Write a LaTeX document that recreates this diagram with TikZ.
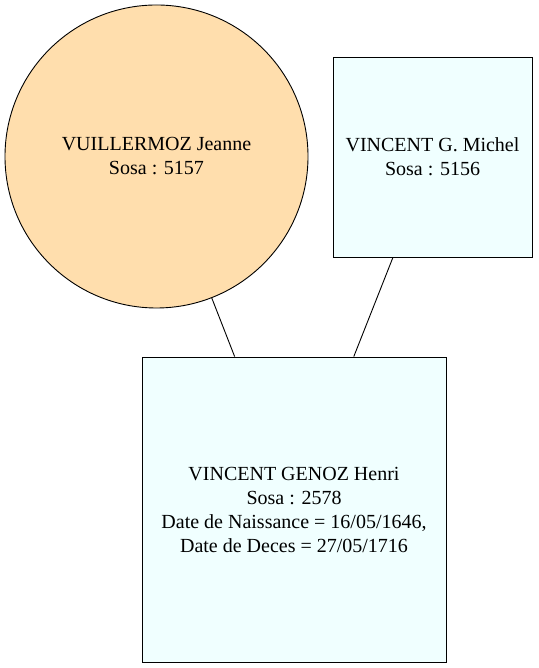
\documentclass[tikz,border=0pt]{standalone}
\usepackage{fontspec}
\setmainfont{Liberation Serif}
\usetikzlibrary{positioning}

\definecolor{femfill}{HTML}{FFDEAD}
\definecolor{malefill}{HTML}{F0FFFF}

\tikzset{
    person/.style = {draw, line width = 0.9pt, inner sep = 0pt, align = center,
                     font = \fontsize{20}{24}\selectfont},
    femme/.style = {person, circle, fill = femfill, minimum size = 303pt},
    homme/.style = {person, rectangle, fill = malefill},
    lien/.style = {line width = 0.9pt}
}

\begin{document}
\begin{tikzpicture}[x = 1pt, y = 1pt]
            \useasboundingbox (0,0) rectangle (538,668);
            \node[femme] (jeanne) at (156.5,511.5) {VUILLERMOZ Jeanne\\Sosa : 5157};
            \node[homme, minimum width = 199pt, minimum height = 200pt] (michel) at (432.5,511) {VINCENT G. Michel\\Sosa : 5156};
            \node[homme, minimum width = 304pt, minimum height = 305pt] (henri) at (294,158.5)
                {VINCENT GENOZ Henri\\Sosa : 2578\\Date de Naissance = 16/05/1646,\\Date de Deces = 27/05/1716};

            % parents
            \draw[lien] (jeanne) -- (henri);
            \draw[lien] (michel) -- (henri);


        \end{tikzpicture}
\end{document}
